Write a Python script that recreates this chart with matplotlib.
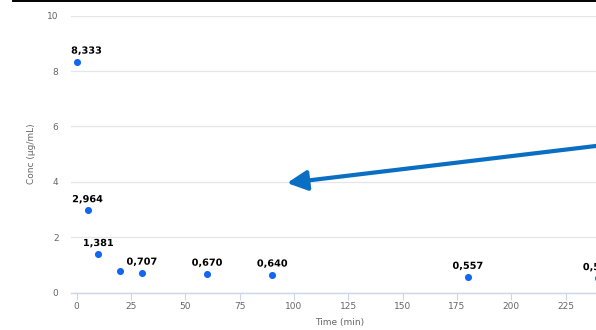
import matplotlib
matplotlib.use("Agg")
import matplotlib.pyplot as plt
import matplotlib.patheffects as pe
from matplotlib.lines import Line2D

# ---- data ----
time_min = [0, 5, 10, 20, 30, 60, 90, 180, 240]
conc = [8.333, 2.964, 1.381, 0.768, 0.707, 0.670, 0.640, 0.557, 0.512]
label_shown = [True, True, True, False, True, True, True, True, True]
x_ticks = [0, 25, 50, 75, 100, 125, 150, 175, 200, 225]
y_ticks = [0, 2, 4, 6, 8, 10]

W, H = 596, 330
fig = plt.figure(figsize=(W / 100, H / 100), dpi=100)
fig.patch.set_facecolor("white")

left_px, right_px = 71, 641.7
top_px, bot_px = 15.7, 292.5
ax = fig.add_axes([left_px / W, 1 - bot_px / H, (right_px - left_px) / W, (bot_px - top_px) / H])
ax.set_xlim(-2.6, 260)
ax.set_ylim(0, 10)

ax.scatter(time_min, conc, s=26, color="#1166f2", zorder=3, linewidths=0)

for t, c, show in zip(time_min, conc, label_shown):
    if not show:
        continue
    txt = f"{c:.3f}".replace(".", ",")
    if t == 0:
        ha, dx = "left", -4
    else:
        ha, dx = "center", 0
    ax.annotate(txt, (t, c), xytext=(dx, 4.5), textcoords="offset points",
                ha=ha, va="bottom", fontsize=7, fontweight="bold", color="black",
                path_effects=[pe.withStroke(linewidth=1.5, foreground="white")],
                annotation_clip=False, zorder=4)

ax.set_xticks(x_ticks)
ax.set_yticks(y_ticks)
ax.set_xticklabels([str(v) for v in x_ticks])
ax.set_yticklabels([str(v) for v in y_ticks])
ax.tick_params(axis="x", length=5, width=0.8, color="#ccd6eb", pad=1.5,
               labelsize=6.5, labelcolor="#666666")
ax.tick_params(axis="y", length=0, pad=9, labelsize=6.5, labelcolor="#666666")

ax.grid(axis="y", color="#e6e6e6", linewidth=0.9)
ax.set_axisbelow(True)
for s in ["top", "right", "left"]:
    ax.spines[s].set_visible(False)
ax.spines["bottom"].set_color("#ccd6eb")
ax.spines["bottom"].set_linewidth(1.0)

fig.text(32 / W, 1 - 154 / H, "Conc (µg/mL)", rotation=90, ha="center", va="center",
         fontsize=6.5, color="#666666")
fig.text(340 / W, 1 - 323 / H, "Time (min)", ha="center", va="center",
         fontsize=6.5, color="#666666")

# top border line
fig.add_artist(Line2D([13 / W, 1.0], [1 - 1 / H, 1 - 1 / H], color="black", linewidth=1.4))

# annotation arrow
tip = (287, H - 183)
tail = (650, H - 139.5)
ax.annotate("", xy=tip, xycoords="figure pixels", xytext=tail, textcoords="figure pixels",
            arrowprops=dict(arrowstyle="-|>,head_length=0.6,head_width=0.3",
                            mutation_scale=20, lw=3.0, color="#0a6fc2",
                            shrinkA=0, shrinkB=0),
            annotation_clip=False)

fig.savefig("out.png", dpi=100)
